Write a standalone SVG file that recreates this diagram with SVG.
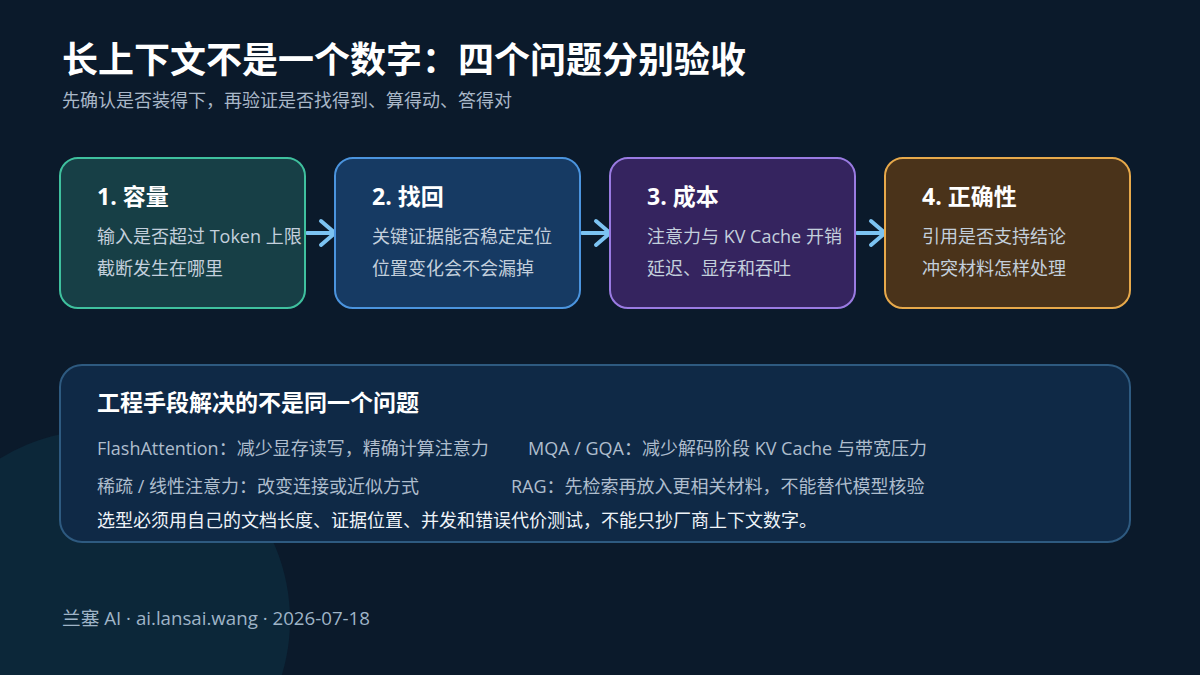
<svg xmlns="http://www.w3.org/2000/svg" width="1200" height="675" viewBox="0 0 1200 675">
<defs>
<style>
.t{font-family:"Open Sans","Noto Sans CJK SC",sans-serif}
.h1{font-size:36px;font-weight:700;fill:#ffffff}
.sub{font-size:18px;fill:#a9b7c8}
.ct{font-size:23px;font-weight:700;fill:#ffffff}
.cb{font-size:18px;fill:#c3cfdc}
.pb{font-size:18px;fill:#aebdcd}
.pw{font-size:18px;fill:#eef3f8}
.ft{font-size:18.7px;fill:#9fb4c7}
.card{stroke-width:2}
.arr{fill:none;stroke:#7cc3f2;stroke-width:4;stroke-linecap:round;stroke-linejoin:round}
</style>
</defs>
<rect width="1200" height="675" fill="#0b1a2b"/>
<circle cx="100" cy="620" r="190" fill="#0c2739"/>
<text class="t h1" x="62" y="73">长上下文不是一个数字：四个问题分别验收</text>
<text class="t sub" x="62" y="107">先确认是否装得下，再验证是否找得到、算得动、答得对</text>

<g id="connectors">
<path class="arr" d="M307 233 H332 M321 221 L335 233 L321 245"/>
<path class="arr" d="M582 233 H607 M596 221 L610 233 L596 245"/>
<path class="arr" d="M857 233 H882 M871 221 L885 233 L871 245"/>
</g>

<g id="card1">
<rect class="card" x="60" y="158" width="245" height="150" rx="18" fill="#173f46" stroke="#3fc09e"/>
<text class="t ct" x="97" y="205">1. 容量</text>
<text class="t cb" x="97" y="243">输入是否超过 Token 上限</text>
<text class="t cb" x="97" y="275">截断发生在哪里</text>
</g>
<g id="card2">
<rect class="card" x="335" y="158" width="245" height="150" rx="18" fill="#163a63" stroke="#4b94de"/>
<text class="t ct" x="372" y="205">2. 找回</text>
<text class="t cb" x="372" y="243">关键证据能否稳定定位</text>
<text class="t cb" x="372" y="275">位置变化会不会漏掉</text>
</g>
<g id="card3">
<rect class="card" x="610" y="158" width="245" height="150" rx="18" fill="#35245f" stroke="#9a7be2"/>
<text class="t ct" x="647" y="205">3. 成本</text>
<text class="t cb" x="647" y="243">注意力与 KV Cache 开销</text>
<text class="t cb" x="647" y="275">延迟、显存和吞吐</text>
</g>
<g id="card4">
<rect class="card" x="885" y="158" width="245" height="150" rx="18" fill="#4a331a" stroke="#e7a94b"/>
<text class="t ct" x="922" y="205">4. 正确性</text>
<text class="t cb" x="922" y="243">引用是否支持结论</text>
<text class="t cb" x="922" y="275">冲突材料怎样处理</text>
</g>

<g id="panel">
<rect x="60" y="365" width="1070" height="177" rx="22" fill="#0f2946" stroke="#2e5a80" stroke-width="2"/>
<text class="t ct" x="97" y="411">工程手段解决的不是同一个问题</text>
<text class="t pb" x="97" y="455">FlashAttention：减少显存读写，精确计算注意力</text>
<text class="t pb" x="528" y="455">MQA / GQA：减少解码阶段 KV Cache 与带宽压力</text>
<text class="t pb" x="97" y="493">稀疏 / 线性注意力：改变连接或近似方式</text>
<text class="t pb" x="511" y="493">RAG：先检索再放入更相关材料，不能替代模型核验</text>
<text class="t pw" x="97" y="527">选型必须用自己的文档长度、证据位置、并发和错误代价测试，不能只抄厂商上下文数字。</text>
</g>

<text class="t ft" x="62" y="625">兰塞 AI · ai.lansai.wang · 2026-07-18</text>
</svg>
